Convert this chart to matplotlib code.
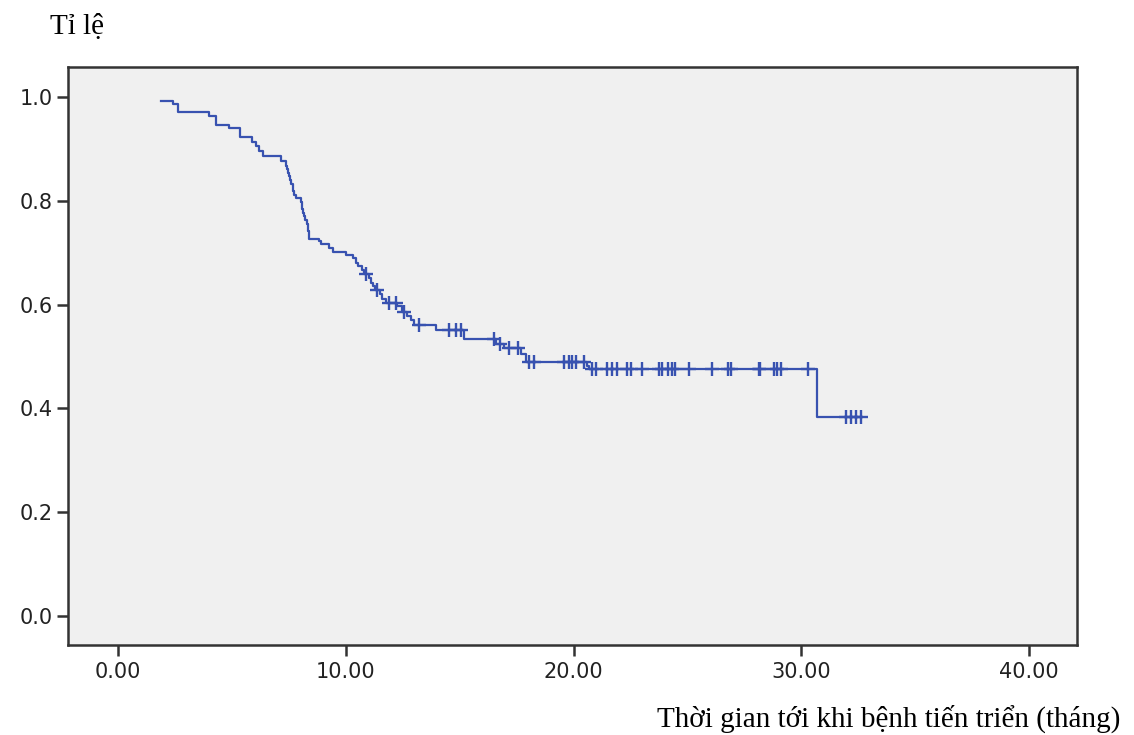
from matplotlib import pyplot as plt
import numpy as np

# Kaplan-Meier curve (months, survival after step)
start_time = 1.9
start_surv = 0.993

event_times = [2.39, 2.61, 3.97, 4.28, 4.85, 5.36, 5.90, 6.07, 6.20, 6.34,
               7.16, 7.35, 7.41, 7.46, 7.50, 7.55, 7.60, 7.66, 7.70, 7.74,
               7.80, 8.03, 8.06, 8.09, 8.12, 8.15, 8.22, 8.28, 8.33, 8.35,
               8.37, 8.39, 8.81, 8.91, 9.28, 9.42, 10.01, 10.30, 10.45, 10.55,
               10.70, 10.80, 11.03, 11.10, 11.20, 11.30, 11.50, 11.60, 11.75, 12.25,
               12.45, 12.70, 12.85, 13.00, 13.96, 15.20, 16.59, 16.95, 17.68, 17.93,
               20.60, 20.68, 30.67]
surv_values = [0.986, 0.971, 0.964, 0.947, 0.940, 0.923, 0.913, 0.906, 0.897, 0.886,
               0.876, 0.868, 0.861, 0.854, 0.847, 0.840, 0.833, 0.826, 0.819, 0.812,
               0.805, 0.798, 0.791, 0.784, 0.777, 0.770, 0.763, 0.756, 0.749, 0.741,
               0.733, 0.726, 0.722, 0.717, 0.710, 0.702, 0.696, 0.689, 0.681, 0.674,
               0.667, 0.660, 0.651, 0.642, 0.635, 0.628, 0.620, 0.611, 0.604, 0.597,
               0.586, 0.578, 0.570, 0.561, 0.552, 0.533, 0.525, 0.517, 0.505, 0.490,
               0.482, 0.476, 0.383]

# censored cases (+ marks)
censor_times = [10.89, 11.35, 11.91, 12.20, 12.57, 13.23, 14.54, 14.83, 15.05,
                16.52, 16.75, 17.17, 17.54, 18.05, 18.27, 19.58, 19.80, 19.93, 20.10,
                20.46, 20.82, 20.96, 21.48, 21.67, 21.89, 22.36, 22.52, 23.02, 23.75,
                23.89, 24.14, 24.34, 24.45, 25.07, 26.09, 26.78, 26.93, 28.14, 28.20,
                28.79, 28.94, 29.09, 30.29, 31.94, 32.16, 32.38, 32.60]

x_ticks = [0, 10, 20, 30, 40]
y_ticks = [0.0, 0.2, 0.4, 0.6, 0.8, 1.0]


def surv_at(t, times, values):
    idx = np.searchsorted(times, t, side='right') - 1
    return values[idx]


def main():
    times = np.array([start_time] + event_times + [max(censor_times)])
    values = np.array([start_surv] + surv_values + [surv_values[-1]])
    censor_y = [surv_at(t, times, values) for t in censor_times]

    fig = plt.figure(figsize=(11.34, 7.35), dpi=100)
    ax = fig.add_axes([68 / 1134, 1 - 645 / 735, (1077 - 68) / 1134, (645 - 67) / 735])
    ax.set_facecolor('#f0f0f0')

    color = '#3852b0'
    ax.step(times, values, where='post', color=color, linewidth=1.6)
    ax.plot(censor_times, censor_y, linestyle='none', marker='+', markersize=10,
            markeredgewidth=1.7, color=color)

    ax.set_xlim(-2.2, 42.1)
    ax.set_ylim(-0.056, 1.058)
    ax.set_xticks(x_ticks)
    ax.set_xticklabels(['%.2f' % v for v in x_ticks])
    ax.set_yticks(y_ticks)
    ax.set_yticklabels(['%.1f' % v for v in y_ticks])

    for spine in ax.spines.values():
        spine.set_color('#333333')
        spine.set_linewidth(1.8)
    ax.tick_params(direction='out', length=8, width=1.8, color='#333333',
                   labelsize=15, labelcolor='#222222')
    ax.tick_params(axis='x', pad=4)
    ax.tick_params(axis='y', pad=3)

    fig.text(50 / 1134, 1 - 27 / 735, 'Tỉ lệ', family='Liberation Serif',
             fontsize=21, va='center', ha='left')
    fig.text(1120 / 1134, 1 - 719 / 735, 'Thời gian tới khi bệnh tiến triển (tháng)',
             family='Liberation Serif', fontsize=21, va='center', ha='right')

    plt.savefig('out.png', dpi=100)


if __name__ == "__main__":
    main()
